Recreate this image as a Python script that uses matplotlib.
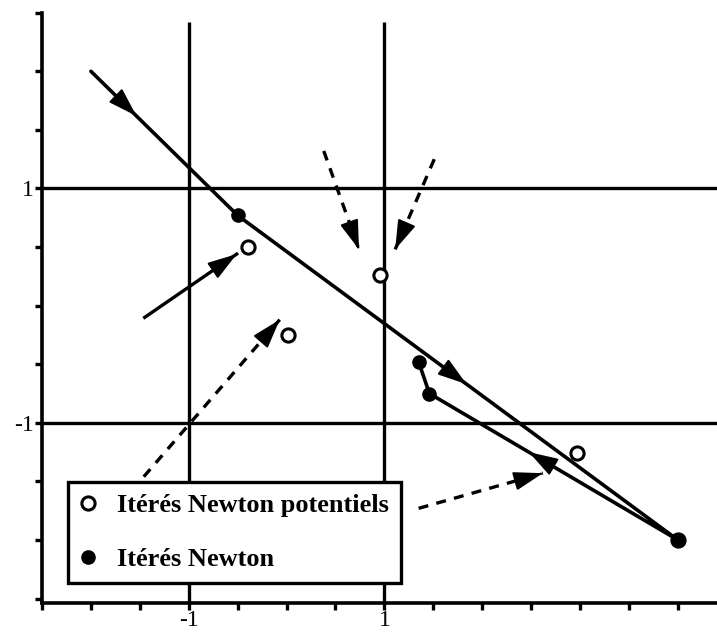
import numpy as np
import matplotlib
matplotlib.use('Agg')
import matplotlib.pyplot as plt

plt.rcParams['font.family'] = ['Liberation Serif', 'DejaVu Serif']

# Newton iterates, in the order they are visited (the first point has no dot)
newton_x = [-2.0, -0.5, 4.0, 1.46, 1.35]
newton_y = [2.0, 0.77, -2.0, -0.75, -0.48]

# potential Newton iterates (open circles)
potential_x = [-0.39, 0.95, 0.01, 2.97, 4.0]
potential_y = [0.50, 0.26, -0.25, -1.26, -2.0]

# arrow heads along the Newton path: (segment index, fraction along segment)
path_arrows = [(0, 0.31), (1, 0.52), (2, 0.60)]

# annotation arrows: (start x, start y, end x, end y)
solid_arrows = [(-1.45, -0.10, -0.51, 0.44)]
dashed_arrows = [(-1.46, -1.46, -0.07, -0.12),
                 (0.38, 1.32, 0.74, 0.48),
                 (1.51, 1.25, 1.11, 0.48),
                 (1.35, -1.73, 2.62, -1.43)]

grid_vals = [-1, 1]
x_limits = (-2.5, 4.4)
y_limits = (-2.54, 2.5)
labelled = {-1.0: '-1', 1.0: '1'}

HEAD = '-|>,head_length=1.0,head_width=0.32'


def head(ax, x0, y0, x1, y1, frac=1.0):
    """Draw a filled arrow head pointing from (x0, y0) to (x1, y1) at frac of the way."""
    hx = x0 + frac * (x1 - x0)
    hy = y0 + frac * (y1 - y0)
    d = np.hypot(x1 - x0, y1 - y0)
    tx = hx - 0.02 * (x1 - x0) / d
    ty = hy - 0.02 * (y1 - y0) / d
    ax.annotate('', xy=(hx, hy), xytext=(tx, ty),
                arrowprops=dict(arrowstyle=HEAD, color='black', lw=1.5,
                                mutation_scale=18, shrinkA=0, shrinkB=0),
                zorder=4)


fig = plt.figure(figsize=(7.17, 6.35), dpi=100)
ax = fig.add_axes([0.0586, 0.05, 0.9414, 0.93])

ax.set_xlim(*x_limits)
ax.set_ylim(*y_limits)

# reference grid lines
for g in grid_vals:
    ax.axhline(g, color='black', lw=2.4, zorder=1)
ax.vlines(grid_vals, y_limits[0], 2.42, color='black', lw=2.4, zorder=1)

# Newton path
ax.plot(newton_x, newton_y, color='black', lw=2.6, solid_capstyle='round',
        solid_joinstyle='round', zorder=3)
for seg, frac in path_arrows:
    head(ax, newton_x[seg], newton_y[seg], newton_x[seg + 1], newton_y[seg + 1], frac)

for sx, sy, ex, ey in solid_arrows:
    ax.plot([sx, ex], [sy, ey], color='black', lw=2.4, zorder=4)
    head(ax, sx, sy, ex, ey)

for sx, sy, ex, ey in dashed_arrows:
    ax.plot([sx, ex], [sy, ey], color='black', lw=2.4, dashes=(3, 2.5),
            zorder=4)
    head(ax, sx, sy, ex, ey)

ax.plot(potential_x, potential_y, 'o', ms=9.5, mfc='white', mec='black',
        mew=2.2, ls='none', zorder=5, label='Itérés Newton potentiels')
ax.plot(newton_x[1:], newton_y[1:], 'o', ms=9.5, color='black',
        ls='none', zorder=6, label='Itérés Newton')

# axes styling
for side in ['top', 'right']:
    ax.spines[side].set_visible(False)
for side in ['left', 'bottom']:
    ax.spines[side].set_linewidth(2.6)

xt = np.arange(-2.5, 4.41, 0.5)
yt = np.arange(-2.5, 2.51, 0.5)
ax.set_xticks(xt)
ax.set_yticks(yt)
ax.set_xticklabels([labelled.get(round(v, 1), '') for v in xt])
ax.set_yticklabels([labelled.get(round(v, 1), '') for v in yt])
ax.tick_params(direction='out', length=5, width=2.4, labelsize=17, pad=1)
ax.tick_params(axis='x', pad=0)

leg = ax.legend(loc='lower left', bbox_to_anchor=(0.0385, 0.034),
                borderaxespad=0, fancybox=False, framealpha=1,
                edgecolor='black', labelspacing=1.15,
                handlelength=0.6, handletextpad=0.8, borderpad=0.45,
                prop={'weight': 'bold', 'size': 19})
leg.get_frame().set_linewidth(2.4)
leg.set_zorder(10)

fig.savefig('out.png', dpi=100, facecolor='white')
